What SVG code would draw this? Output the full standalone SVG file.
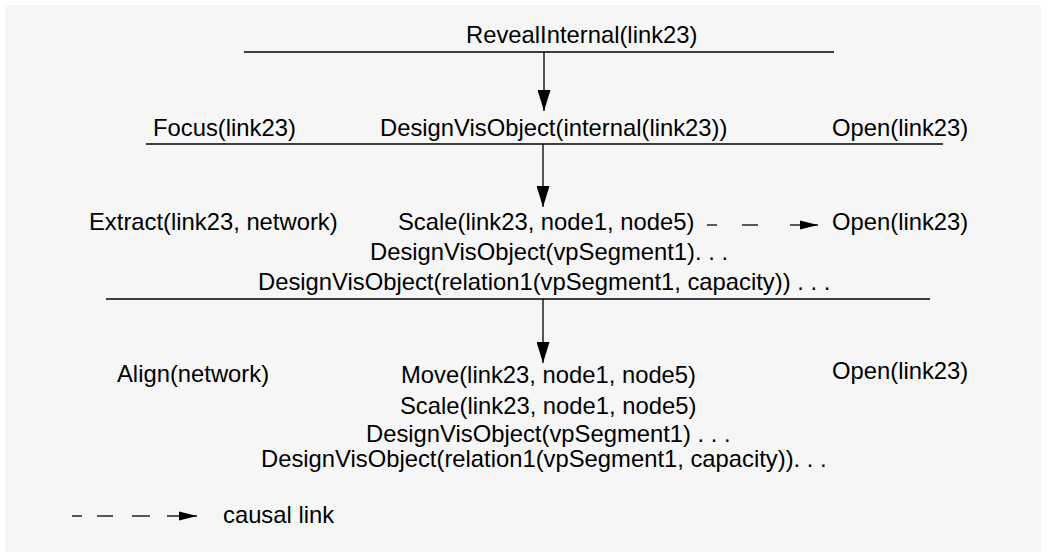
<svg xmlns="http://www.w3.org/2000/svg" width="1051" height="557" viewBox="0 0 1051 557">
  <style>
    .bg { fill: #f6f6f6; }
    text { font-family: "Liberation Sans", Arial, sans-serif; font-size: 23.8px; fill: #000; }
    .rule { stroke: #000; stroke-width: 1.5; fill: none; }
    .edge { stroke: #000; stroke-width: 1.3; fill: none; }
    .causal { stroke: #000; stroke-width: 1.3; fill: none; }
  </style>
  <defs>
    <marker id="head" viewBox="0 0 13 21" refX="6.5" refY="21" markerWidth="13" markerHeight="21" markerUnits="userSpaceOnUse" orient="0">
      <path d="M0,0 L13,0 L6.5,21 Z" fill="#000"/>
    </marker>
    <marker id="causalHead" viewBox="0 0 18 10" refX="18" refY="5" markerWidth="18" markerHeight="10" markerUnits="userSpaceOnUse" orient="auto">
      <path d="M0,0.5 L18,5 L0,9.5 Z" fill="#000"/>
    </marker>
  </defs>

  <rect class="bg" x="5" y="5" width="1036" height="547"/>

  <!-- level 0 -->
  <g id="reveal-internal">
    <text x="466" y="43">RevealInternal(link23)</text>
    <line class="rule" x1="244" y1="52" x2="834" y2="52"/>
  </g>

  <!-- level 1 -->
  <g id="level1">
    <text x="153" y="136">Focus(link23)</text>
    <text x="380" y="136">DesignVisObject(internal(link23))</text>
    <text x="832" y="136">Open(link23)</text>
    <line class="rule" x1="146" y1="144" x2="943" y2="144"/>
  </g>

  <!-- level 2 -->
  <g id="level2">
    <text x="89" y="230">Extract(link23, network)</text>
    <text x="398" y="230">Scale(link23, node1, node5)</text>
    <text x="832" y="230">Open(link23)</text>
    <text x="370" y="260">DesignVisObject(vpSegment1). . .</text>
    <text x="258" y="290">DesignVisObject(relation1(vpSegment1, capacity)) . . .</text>
    <line class="rule" x1="106" y1="299" x2="930" y2="299"/>
  </g>

  <!-- level 3 -->
  <g id="level3">
    <text x="117" y="382">Align(network)</text>
    <text x="401" y="383">Move(link23, node1, node5)</text>
    <text x="832" y="379">Open(link23)</text>
    <text x="400" y="414">Scale(link23, node1, node5)</text>
    <text x="366" y="442">DesignVisObject(vpSegment1) . . .</text>
    <text x="261" y="467">DesignVisObject(relation1(vpSegment1, capacity)). . .</text>
  </g>

  <!-- legend -->
  <g id="legend">
    <line class="causal" x1="72" y1="516" x2="82" y2="516"/>
    <line class="causal" x1="97" y1="516" x2="113" y2="516"/>
    <line class="causal" x1="132" y1="516" x2="150" y2="516"/>
    <line class="causal" x1="167" y1="516" x2="197" y2="516" marker-end="url(#causalHead)"/>
    <text x="223" y="523">causal link</text>
  </g>

  <!-- connectors -->
  <g id="connectors">
    <line class="edge" x1="544" y1="52" x2="544" y2="111" marker-end="url(#head)"/>
    <line class="edge" x1="543" y1="144" x2="543" y2="207" marker-end="url(#head)"/>
    <line class="edge" x1="543" y1="299" x2="543" y2="363" marker-end="url(#head)"/>
    <g id="causal-scale-open">
      <line class="causal" x1="707" y1="225" x2="717" y2="225"/>
      <line class="causal" x1="742" y1="225" x2="758" y2="225"/>
      <line class="causal" x1="790" y1="225" x2="818" y2="225" marker-end="url(#causalHead)"/>
    </g>
  </g>
</svg>
